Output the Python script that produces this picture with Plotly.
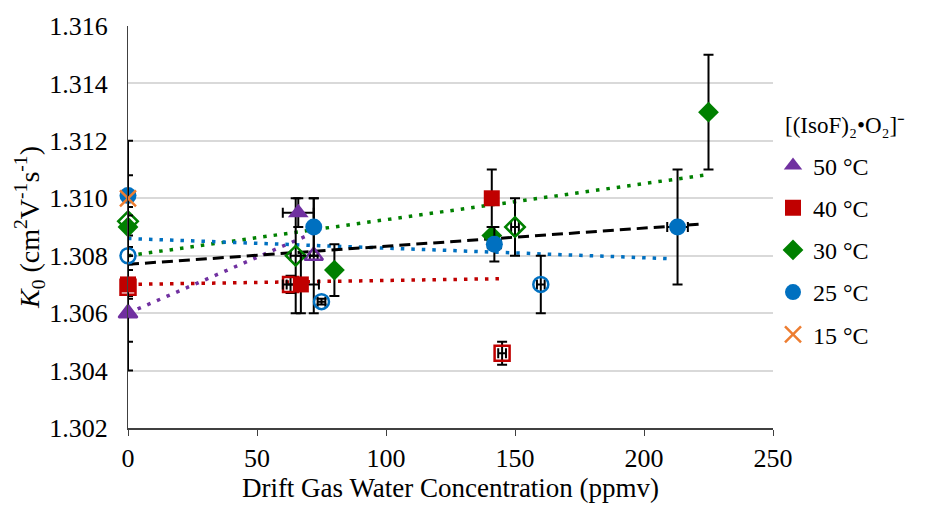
import plotly.graph_objects as go

# ---- data ----
t50_x = [0, 66]; t50_y = [1.306, 1.3095]; t50_ey = [0.001, 0.0005]; t50_ex = [0, 6]
t50o_x = [0, 72]; t50o_y = [1.306, 1.308]; t50o_ey = [0.002, 0.002]; t50o_ex = [0, 1.5]

t40_x = [0, 67, 141]; t40_y = [1.307, 1.307, 1.310]; t40_ey = [0.0005, 0.001, 0.001]; t40_ex = [0, 7, 1]
t40o_x = [0, 63, 145]; t40o_y = [1.3069, 1.307, 1.3046]; t40o_ey = [0.0003, 0.0003, 0.0004]; t40o_ex = [0, 1.5, 1.5]

t30_x = [0, 80, 141, 225]; t30_y = [1.309, 1.3075, 1.3087, 1.313]; t30_ey = [0.001, 0.0009, 0.0003, 0.002]; t30_ex = [0, 0, 1, 0]
t30o_x = [0, 65, 150]; t30o_y = [1.3092, 1.308, 1.309]; t30o_ey = [0.0005, 0.002, 0.001]; t30o_ex = [0, 2, 1.5]

t25_x = [0, 72, 142, 213]; t25_y = [1.3101, 1.309, 1.3084, 1.309]; t25_ey = [0.0007, 0.001, 0.0006, 0.002]; t25_ex = [0, 0, 2.5, 4]
t25o_x = [0, 75, 160]; t25o_y = [1.308, 1.3064, 1.307]; t25o_ey = [0.0003, 0.0001, 0.001]; t25o_ex = [0, 1.5, 1.5]

t15_x = [0]; t15_y = [1.310]; t15_ey = [0.002]; t15_ex = [0]

# trend lines (end points)
tr50_x = [0, 72]; tr50_y = [1.306, 1.3088]
tr40_x = [0, 145]; tr40_y = [1.307, 1.3072]
tr30_x = [0, 223]; tr30_y = [1.308, 1.3108]
tr25_x = [0, 209]; tr25_y = [1.3086, 1.3079]
trall_x = [0, 222]; trall_y = [1.3077, 1.3091]

y_ticks = [1.302, 1.304, 1.306, 1.308, 1.310, 1.312, 1.314, 1.316]
x_ticks = [0, 50, 100, 150, 200, 250]
legend_title = "[(IsoF)₂•O₂]⁻"

PURPLE = "#7030A0"; RED = "#C00000"; GREEN = "#008000"; BLUE = "#0070C0"; ORANGE = "#ED7D31"
FONT = "Liberation Serif"

fig = go.Figure()

dot = "3.5px,7px"
for xs, ys, col, dash, w in [
    (tr50_x, tr50_y, PURPLE, dot, 3.5),
    (tr40_x, tr40_y, RED, dot, 3.5),
    (tr30_x, tr30_y, GREEN, dot, 3.5),
    (tr25_x, tr25_y, BLUE, dot, 3.5),
    (trall_x, trall_y, "black", "11px,6px", 3),
]:
    fig.add_trace(go.Scatter(x=xs, y=ys, mode="lines", line=dict(color=col, width=w, dash=dash),
                             showlegend=False, hoverinfo="skip", cliponaxis=False))


def err(arr):
    return dict(type="data", array=arr, visible=True, color="black", thickness=2, width=5)


def add(xs, ys, ex, ey, col, sym, size, name=None, open_=False):
    fig.add_trace(go.Scatter(
        x=xs, y=ys, mode="markers", name=name, showlegend=name is not None,
        legendgroup=name, cliponaxis=False,
        error_y=err(ey), error_x=err(ex),
        marker=dict(symbol=sym, size=size, color=col,
                    line=dict(color=col, width=2.5 if open_ else 0)),
    ))

# open markers
add(t50o_x, t50o_y, t50o_ex, t50o_ey, PURPLE, "triangle-up-open", 16, open_=True)
add(t40o_x, t40o_y, t40o_ex, t40o_ey, RED, "square-open", 15, open_=True)
add(t30o_x, t30o_y, t30o_ex, t30o_ey, GREEN, "diamond-open", 15, open_=True)
add(t25o_x, t25o_y, t25o_ex, t25o_ey, BLUE, "circle-open", 15, open_=True)

# filled markers (legend)
add(t50_x, t50_y, t50_ex, t50_ey, PURPLE, "triangle-up", 18, name="50 °C")
add(t40_x, t40_y, t40_ex, t40_ey, RED, "square", 16, name="40 °C")
add(t30_x, t30_y, t30_ex, t30_ey, GREEN, "diamond", 16, name="30 °C")
add(t25_x, t25_y, t25_ex, t25_ey, BLUE, "circle", 17, name="25 °C")
fig.add_trace(go.Scatter(
    x=t15_x, y=t15_y, mode="markers", name="15 °C", legendgroup="15 °C", cliponaxis=False,
    error_y=err(t15_ey),
    marker=dict(symbol="x-thin", size=16, color=ORANGE, line=dict(color=ORANGE, width=2.5)),
))

fig.add_annotation(
    text=legend_title, xref="paper", yref="paper", x=1.0155, y=0.752,
    xanchor="left", yanchor="middle", showarrow=False,
    font=dict(family=FONT, size=23, color="black"),
)

fig.update_layout(
    width=942, height=506,
    margin=dict(l=128, r=169, t=22, b=73),
    paper_bgcolor="white", plot_bgcolor="white",
    font=dict(family=FONT, size=26, color="black"),
    legend=dict(
        x=1.0, y=0.708, xanchor="left", yanchor="top",
        font=dict(family=FONT, size=24), tracegroupgap=8,
        bgcolor="rgba(0,0,0,0)", itemwidth=30,
    ),
    xaxis=dict(
        range=[0, 250], tickvals=x_ticks, showgrid=False, zeroline=False,
        showline=True, linecolor="#404040", linewidth=1.5,
        ticks="outside", ticklen=6, tickcolor="#404040",
        title=dict(text="Drift Gas Water Concentration (ppmv)", standoff=2,
                   font=dict(family=FONT, size=27)),
        tickfont=dict(family=FONT, size=26),
    ),
    yaxis=dict(
        range=[1.302, 1.316], tickvals=y_ticks, tickformat=".3f",
        showgrid=True, gridcolor="#D9D9D9", gridwidth=1.5, zeroline=False,
        showline=True, linecolor="#404040", linewidth=1,
        ticklabelstandoff=14,
        title=dict(text="<i>K</i><sub>0</sub> (cm<sup>2</sup>V<sup>-1</sup>s<sup>-1</sup>)", standoff=1,
                   font=dict(family=FONT, size=28)),
        tickfont=dict(family=FONT, size=26),
    ),
)

fig.write_html("out.html")
